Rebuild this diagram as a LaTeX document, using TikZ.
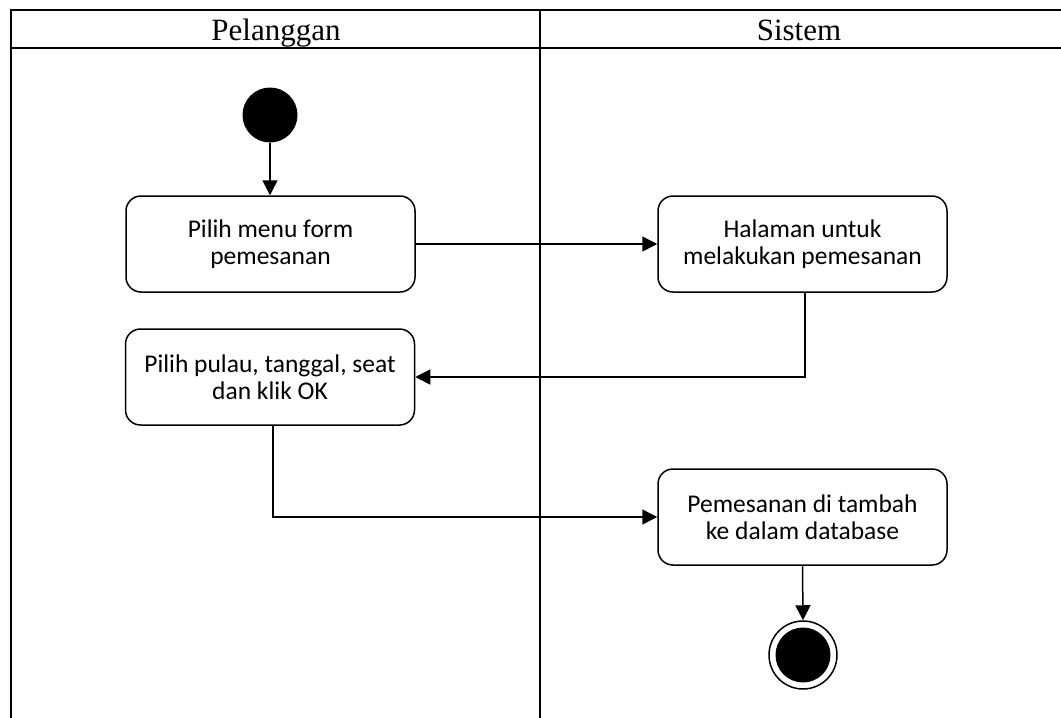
\documentclass[tikz,border=0pt]{standalone}
\usepackage{fontspec}
\setmainfont{Liberation Serif}
\newfontfamily\boxfont{Carlito}
\usetikzlibrary{arrows.meta}
\begin{document}
\begin{tikzpicture}[x=1pt,y=-1pt,
  lane/.style={line width=1.6pt},
  actbox/.style={draw, line width=1.5pt, rounded corners=15pt, minimum width=289pt, minimum height=96pt, align=center, font=\boxfont\fontsize{25.5}{27}\selectfont, inner sep=0pt},
  flow/.style={line width=1.5pt, -{Triangle[length=15pt,width=15pt]}},
  hdr/.style={font=\fontsize{31}{36}\selectfont, inner sep=0pt, anchor=base}]
\useasboundingbox (0,0) rectangle (1061,718);
% swimlanes
\draw[lane] (11,718) -- (11,10) -- (1061,10);
\draw[lane] (11,48) -- (1061,48);
\draw[lane] (540,10) -- (540,718);
\node[hdr] (h1) at (276,40) {Pelanggan};
\node[hdr] (h2) at (799,40) {Sistem};
% nodes
\node[circle, fill=black, minimum size=55pt, inner sep=0pt] (start) at (270,115) {};
\node[actbox] (b1) at (270.5,244) {Pilih menu form\\pemesanan};
\node[actbox] (b2) at (802.5,244) {Halaman untuk\\melakukan pemesanan};
\node[actbox] (b3) at (270,377) {Pilih pulau, tanggal, seat\\dan klik OK};
\node[actbox] (b4) at (802.5,517) {Pemesanan di tambah\\ke dalam database};
\node[circle, draw, line width=1.5pt, minimum size=68pt, inner sep=0pt] (end) at (803,655) {};
\node[circle, fill=black, minimum size=55pt, inner sep=0pt] (endin) at (end.center) {};
% connectors
\draw[flow] (start) -- (b1.north -| start);
\draw[flow] (b1) -- (b2);
\draw[flow] (b2.south) ++(2.5,0) coordinate (c2) |- (b3.east);
\draw[flow] (b3.south) ++(3,0) coordinate (c3) |- (b4.west);
\draw[flow] (b4.south) -- (end.north);
\end{tikzpicture}
\end{document}
